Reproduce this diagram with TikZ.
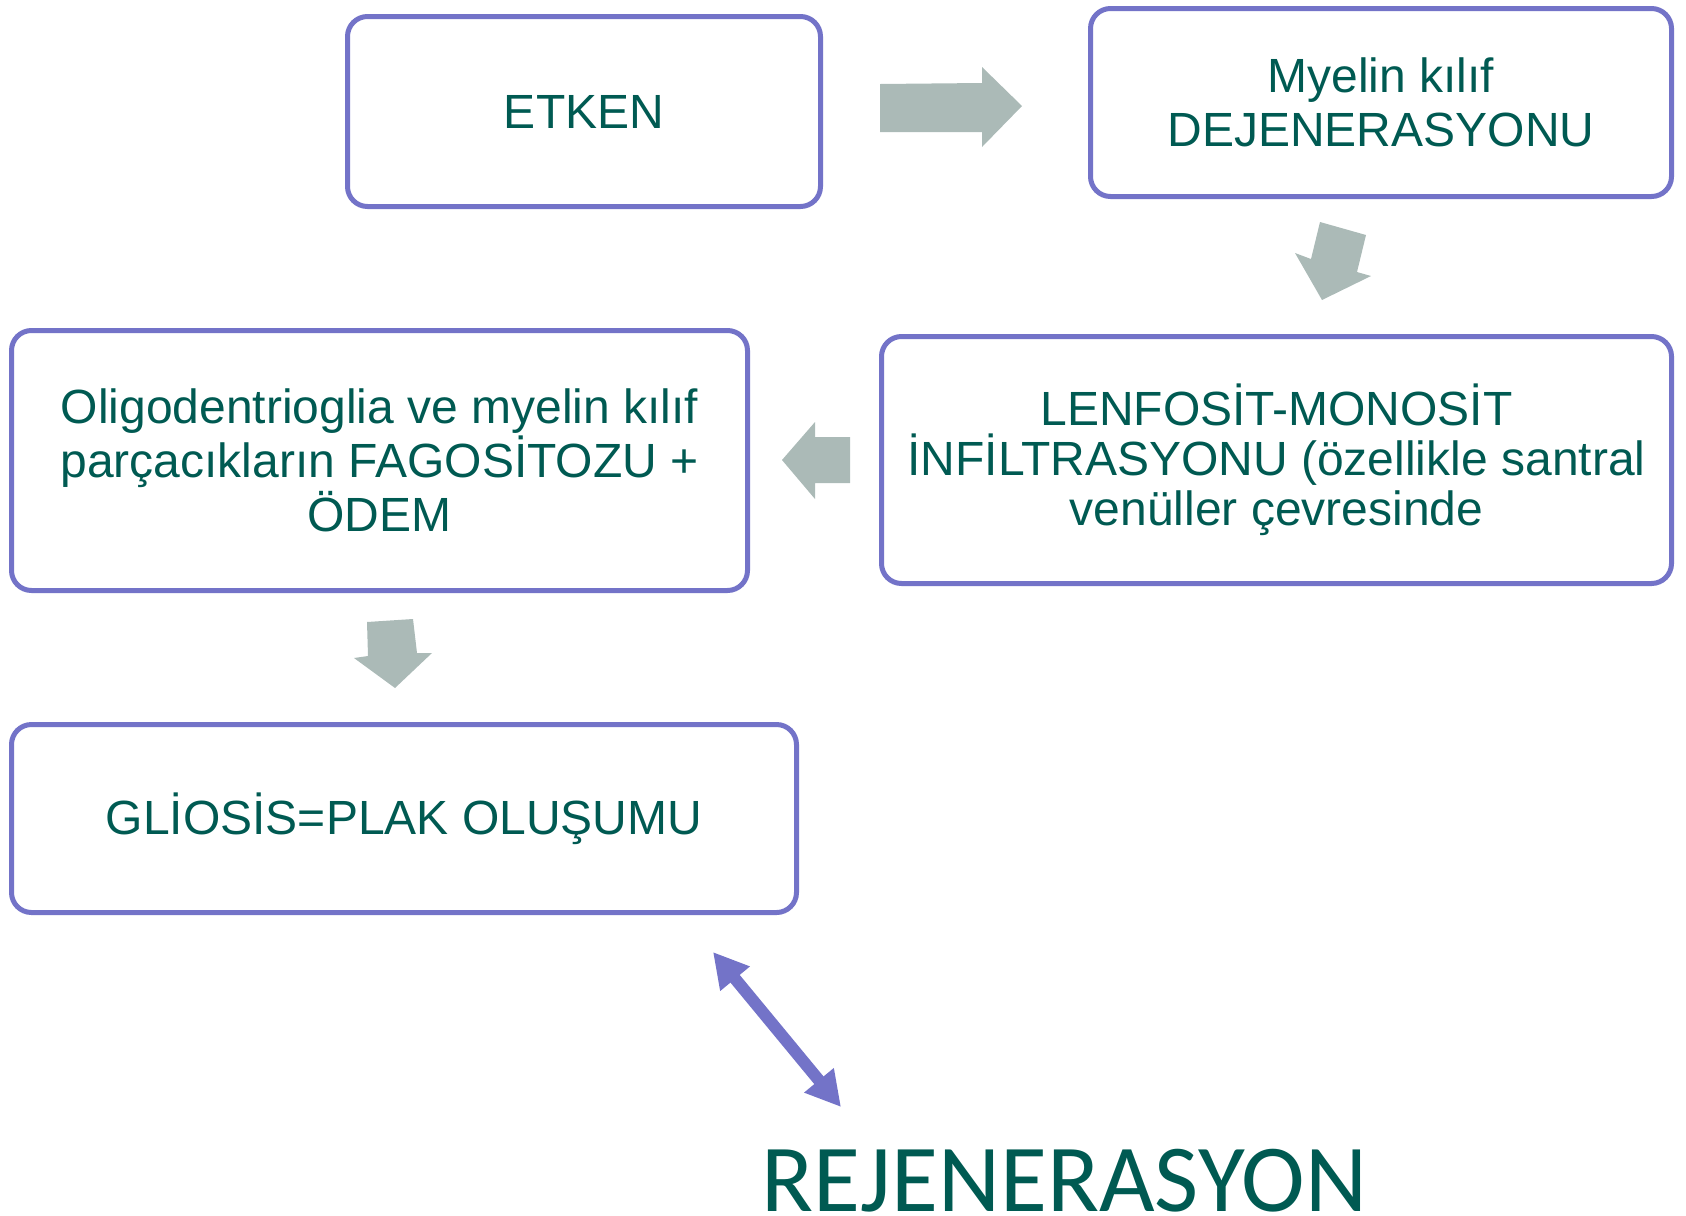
\documentclass[tikz,border=0pt]{standalone}
\usepackage{fontspec}
\setmainfont{Liberation Sans}
\newfontfamily\rejenfont{Carlito}
\usetikzlibrary{arrows.meta}
\definecolor{kenar}{RGB}{115,115,200}
\definecolor{yazi}{RGB}{0,90,82}
\definecolor{okgri}{RGB}{171,186,183}
\tikzset{every picture/.style={line width=0.75pt}}
\tikzset{
  kutu/.style={draw=kenar, line width=3.75pt, rounded corners=15pt, text=yazi, align=center, inner sep=0pt, font=\fontsize{36}{40.5}\selectfont},
  blokok/.style={fill=okgri, draw=none},
  ciftok/.style={draw=kenar, line width=9pt, {Triangle[length=26pt,width=27pt]}-{Triangle[length=26pt,width=27pt]}},
}

\begin{document}
\begin{tikzpicture}[x=0.75pt,y=0.75pt,yscale=-1,xscale=1]
\useasboundingbox (0,0) rectangle (1686,1215);

% Rounded Rect
\node [kutu, minimum width=354.75pt, minimum height=142.5pt] (etken) at (584,111.5) {ETKEN};
% Rounded Rect
\node [kutu, minimum width=435.75pt, minimum height=141pt] (myelin) at (1381,102.5) {Myelin kılıf\\DEJENERASYONU};
% Rounded Rect
\node [kutu, minimum width=592.5pt, minimum height=185.25pt, font=\fontsize{36}{37.5}\selectfont] (lenfosit) at (1276.5,460) {LENFOSİT-MONOSİT\\İNFİLTRASYONU (özellikle santral\\venüller çevresinde};
% Rounded Rect
\node [kutu, minimum width=552pt, minimum height=195pt] (fagosit) at (379.5,460.5) {Oligodentrioglia ve myelin kılıf\\parçacıkların FAGOSİTOZU +\\ÖDEM};
% Rounded Rect
\node [kutu, minimum width=588.75pt, minimum height=141pt] (gliosis) at (404,818.5) {GLİOSİS=PLAK OLUŞUMU};

% Right Arrow
\fill [blokok] (880,84) -- (982,83) -- (982,67) -- (1022,106) -- (982,147) -- (982,132) -- (880,132) -- cycle;
% Down Arrow
\fill [blokok] (1320,222) -- (1366,235) -- (1357,272) -- (1371,276) -- (1322,300) -- (1295,253) -- (1311,259) -- cycle;
% Left Arrow
\fill [blokok] (850,437) -- (815,437) -- (815,422) -- (782,460) -- (815,499) -- (815,483) -- (850,483) -- cycle;
% Down Arrow
\fill [blokok] (367,622) -- (413,619) -- (417,653) -- (432,653) -- (395,688) -- (354,658) -- (368,656) -- cycle;

% Double Arrow
\coordinate (ucA) at (713,952);
\coordinate (ucB) at (841,1107);
\draw [ciftok] (ucA) -- (ucB);

% Text Node
\node [anchor=base, inner sep=0pt, text=yazi, font=\rejenfont\fontsize{72}{86}\selectfont] (rejen) at (1064.5,1211) {REJENERASYON};

\end{tikzpicture}
\end{document}
